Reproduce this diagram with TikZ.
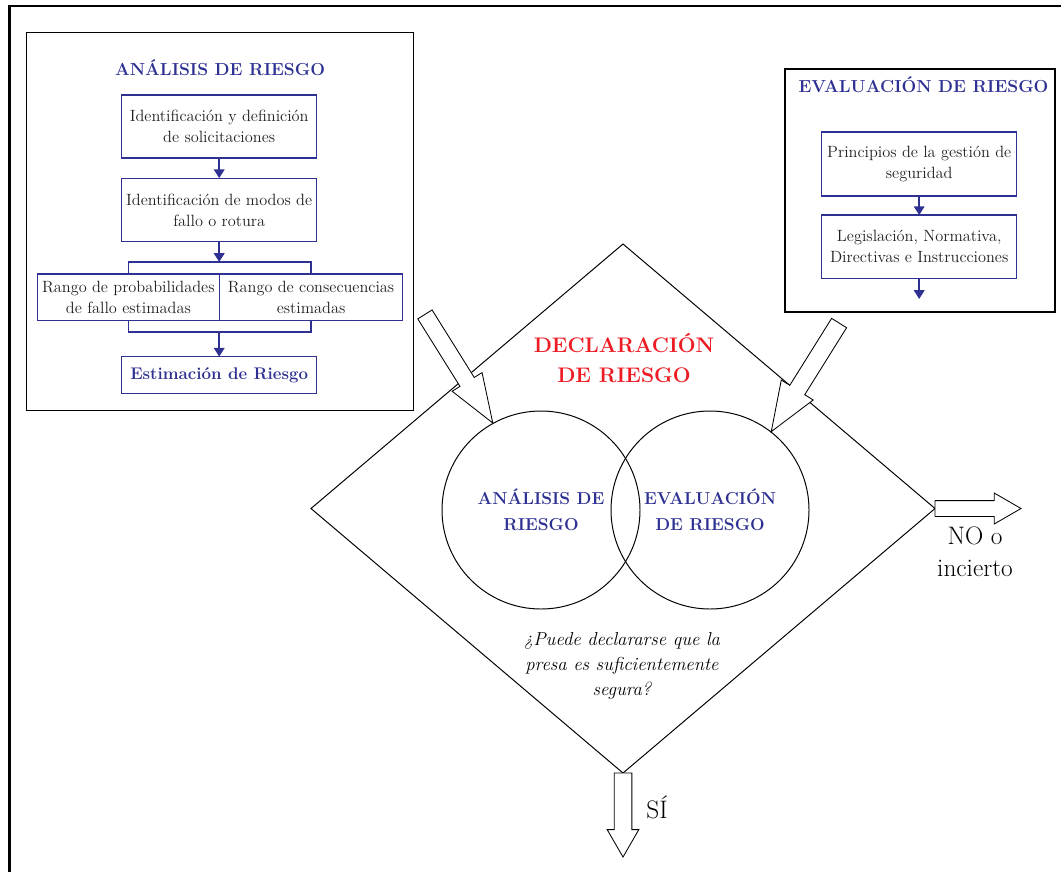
\documentclass[tikz,border=0pt]{standalone}
\usepackage{tikz}
\usetikzlibrary{arrows.meta,shapes.geometric,shapes.arrows}
\definecolor{riskblue}{RGB}{46,49,146}
\definecolor{riskred}{RGB}{237,28,36}
\definecolor{inkgray}{RGB}{35,31,32}
\begin{document}
\begin{tikzpicture}[x=0.25mm, y=-0.25mm,
    frame/.style={draw, line width=0.8pt, inner sep=0pt, outer sep=0pt},
    stepbox/.style={draw=riskblue, line width=0.9pt, text=inkgray, align=center, inner sep=1pt, outer sep=0pt, font=\fontsize{11.6}{15}\selectfont},
    heading/.style={text=riskblue, align=center, font=\bfseries\fontsize{12.4}{18}\selectfont},
    link/.style={draw=riskblue, line width=0.9pt},
    flow/.style={riskblue, line width=1.6pt, -{Triangle[length=2.2mm, width=2.6mm]}},
    fatarrow/.style={single arrow, draw, fill=white, line width=0.6pt, inner xsep=0pt, outer sep=0pt},
  ]
      \useasboundingbox (0,0) rectangle (1061,872);
      \draw[line width=1.8pt] (9.5,872) -- (9.5,6) -- (1061,6);

      \node[frame, minimum width=96.6mm, minimum height=94.3mm] (anabox) at (220,221.5) {};
      \node[heading] (anatitle) at (220,68) {ANÁLISIS DE RIESGO};
      \node[stepbox, minimum width=48.75mm, minimum height=15.75mm] (ident) at (219.2,126.5) {Identificación y definición\\de solicitaciones};
      \node[stepbox, minimum width=48.75mm, minimum height=15.9mm] (modes) at (219.2,210) {Identificación de modos de\\fallo o rotura};
      \node[stepbox, minimum width=45.55mm, minimum height=11.7mm] (prob) at (128.4,297.3) {Rango de probabilidades\\de fallo estimadas};
      \node[stepbox, minimum width=45.8mm, minimum height=11.7mm] (cons) at (311.1,297.3) {Rango de consecuencias\\estimadas};
      \node[stepbox, minimum width=48.75mm, minimum height=9.15mm, text=riskblue, font=\bfseries\fontsize{12}{15}\selectfont] (estim) at (219.2,375) {Estimación de Riesgo};
      \coordinate (jtop) at (219.2,262);
      \coordinate (jbot) at (219.2,332);

      \draw[link] (prob.north) |- (jtop) -| (cons.north);
      \draw[link] (prob.south) |- (jbot) -| (cons.south);
      \draw[flow] (ident) -- (modes);
      \draw[flow] (modes) -- (jtop);
      \draw[flow] (jbot) -- (estim);

      \node[frame, minimum width=67.5mm, minimum height=60.75mm] (evalbox) at (920,190.5) {};
      \node[heading] (evaltitle) at (923.5,85) {EVALUACIÓN DE RIESGO};
      \node[stepbox, minimum width=48.75mm, minimum height=16mm] (princ) at (919.2,164) {Principios de la gestión de\\seguridad};
      \node[stepbox, minimum width=48.75mm, minimum height=15.8mm] (legis) at (919.2,246.7) {Legislación, Normativa,\\Directivas e Instrucciones};
      \coordinate (evalout) at (919.2,299);

      \draw[flow] (princ) -- (legis);
      \draw[flow] (legis) -- (evalout);

      \node[diamond, draw, line width=0.7pt, minimum width=156mm, minimum height=132.25mm, inner sep=0pt, outer sep=0pt] (decl) at (623,508.5) {};
      \node[text=riskred, align=center, font=\bfseries\fontsize{15}{21.3}\selectfont] (decltext) at (624,358) {DECLARACIÓN\\DE RIESGO};
      \node[circle, draw, line width=0.7pt, minimum size=49.5mm, inner sep=0pt, heading, font=\bfseries\fontsize{12.3}{18.2}\selectfont] (circA) at (541,510) {ANÁLISIS DE\\RIESGO};
      \node[circle, draw, line width=0.7pt, minimum size=49.5mm, inner sep=0pt, heading, font=\bfseries\fontsize{12.3}{18.2}\selectfont] (circB) at (710,510) {EVALUACIÓN\\DE RIESGO};
      \node[align=center, font=\itshape\fontsize{13.3}{17.5}\selectfont] (question) at (622,666) {¿Puede declararse que la\\presa es suficientemente\\segura?};

      \node[fatarrow, rotate=-58, anchor=tip, minimum height=32mm, inner ysep=2mm, single arrow head extend=2.3mm, single arrow tip angle=40] (anain) at (circA.119) {};
      \node[fatarrow, rotate=-122, anchor=tip, minimum height=32mm, inner ysep=2.1mm, single arrow head extend=2.5mm, single arrow tip angle=42] (evalin) at (circB.52) {};
      \node[fatarrow, anchor=tail, minimum height=21.5mm, inner ysep=1.875mm, single arrow head extend=1.875mm, single arrow tip angle=60] (noarrow) at (decl.east) {};
      \node[fatarrow, rotate=-90, anchor=tail, minimum height=21mm, inner ysep=2.1mm, single arrow head extend=1.75mm, single arrow tip angle=60] (yesarrow) at (decl.south) {};

      \node[align=center, font=\fontsize{18}{22.7}\selectfont] (nolabel) at (975,552) {NO o\\incierto};
      \node[font=\fontsize{18}{19}\selectfont] (yeslabel) at (657,807) {SÍ};
    \end{tikzpicture}
\end{document}
